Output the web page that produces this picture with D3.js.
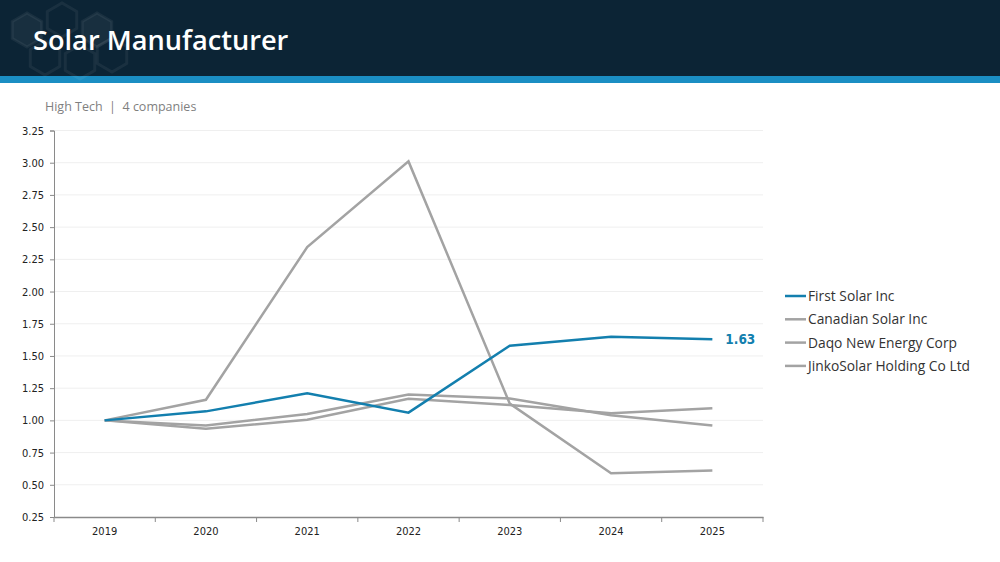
<!DOCTYPE html>
<html><head><meta charset="utf-8">
<script src="https://cdn.jsdelivr.net/npm/d3@7"></script>
<style>body{margin:0;background:#fff;}svg{display:block;}</style>
</head><body>
<svg id="c" width="1000" height="562"></svg>
<script>
const years = ["2019","2020","2021","2022","2023","2024","2025"];
const yTicks = [0.25,0.5,0.75,1.0,1.25,1.5,1.75,2.0,2.25,2.5,2.75,3.0,3.25];
const seriesNames = ["First Solar Inc","Canadian Solar Inc","Daqo New Energy Corp","JinkoSolar Holding Co Ltd"];
const firstSolar = [1.00,1.07,1.21,1.06,1.58,1.65,1.63];
const canadianSolar = [1.00,0.96,1.05,1.20,1.17,1.04,0.96];
const daqo = [1.00,1.16,2.345,3.01,1.13,0.59,0.61];
const jinko = [1.00,0.935,1.005,1.167,1.12,1.055,1.095];
const title = "Solar Manufacturer";
const subtitle = "High Tech  |  4 companies";

(function(){
const svg = d3.select("#c");
const blue = "#137fae", grey = "#a3a3a3";
const tickFont = "DejaVu Sans Condensed, DejaVu Sans, sans-serif";

// header
svg.append("rect").attr("x",0).attr("y",0).attr("width",1000).attr("height",77).attr("fill","#0c2435");
svg.append("rect").attr("x",0).attr("y",76).attr("width",1000).attr("height",7).attr("fill","#1b8ec3");
// faint hexagon decoration
const hex = (cx,cy,r)=>d3.range(6).map(i=>[cx+r*Math.cos(Math.PI/3*i+Math.PI/6), cy+r*Math.sin(Math.PI/3*i+Math.PI/6)]);
const hexes = [[27,30,17,true],[62,20,17,false],[97,30,17,true],[45,58,17,false],[80,62,17,false],[112,55,17,false]];
hexes.forEach(h=>{
  svg.append("polygon").attr("points",hex(h[0],h[1],h[2]).join(" "))
    .attr("fill",h[3]?"#ffffff":"none").attr("fill-opacity",0.05)
    .attr("stroke","#ffffff").attr("stroke-opacity",0.06).attr("stroke-width",3);
});
svg.append("text").attr("x",33).attr("y",50).attr("fill","#fff")
  .attr("font-family","Open Sans, Noto Sans, sans-serif").attr("font-size",27.2).attr("font-weight",600)
  .text(title);
svg.append("text").attr("x",45).attr("y",111).attr("fill","#7f7f7f")
  .attr("font-family","Open Sans, Noto Sans, sans-serif").attr("font-size",12.5).attr("font-weight",400)
  .style("white-space","pre").text(subtitle);

const mLeft = 54, mRight = 763, mTop = 130.5, mBottom = 517;
const x = d3.scaleBand().domain(years).range([mLeft,mRight]);
const y = d3.scaleLinear().domain([0.25,3.25]).range([mBottom,mTop]);

// gridlines
svg.append("g").selectAll("line").data(yTicks.slice(1)).join("line")
  .attr("x1",mLeft).attr("x2",mRight).attr("y1",d=>y(d)).attr("y2",d=>y(d))
  .attr("stroke","#efefef").attr("stroke-width",1);

// y axis
const ya = svg.append("g").attr("transform",`translate(${mLeft},0)`)
  .call(d3.axisLeft(y).tickValues(yTicks).tickFormat(d3.format(".2f")).tickSize(4).tickPadding(6));
ya.select(".domain").attr("stroke","#8a8a8a");
ya.selectAll(".tick line").attr("stroke","#8a8a8a");
ya.selectAll("text").attr("font-family",tickFont).attr("font-size",11).attr("fill","#222");

// x axis
const xa = svg.append("g").attr("transform",`translate(0,${mBottom})`)
  .call(d3.axisBottom(x).tickSize(0).tickPadding(10));
xa.select(".domain").attr("stroke","#8a8a8a").attr("stroke-width",1.5);
xa.selectAll("text").attr("font-family",tickFont).attr("font-size",11).attr("fill","#222");
xa.selectAll("line.bt").data(d3.range(years.length+1)).join("line").attr("class","bt")
  .attr("x1",i=>mLeft+i*x.step()).attr("x2",i=>mLeft+i*x.step()).attr("y1",0).attr("y2",5)
  .attr("stroke","#8a8a8a");

const line = d3.line().x((d,i)=>x(years[i])+x.bandwidth()/2).y(d=>y(d));
const data = [
  {name:seriesNames[0], vals:firstSolar, color:blue},
  {name:seriesNames[1], vals:canadianSolar, color:grey},
  {name:seriesNames[2], vals:daqo, color:grey},
  {name:seriesNames[3], vals:jinko, color:grey}
];
[1,2,3,0].forEach(k=>{
  svg.append("path").attr("d",line(data[k].vals)).attr("fill","none")
    .attr("stroke",data[k].color).attr("stroke-width",2.5).attr("stroke-linejoin","miter");
});
const last = firstSolar[firstSolar.length-1];
svg.append("text").attr("x",x(years[6])+x.bandwidth()/2+13).attr("y",y(last)+5)
  .attr("fill",blue).attr("font-family",tickFont).attr("font-weight","bold").attr("font-size",13.5)
  .text(d3.format(".2f")(last));

const lg = svg.append("g");
data.forEach((d,i)=>{
  const yy = 296 + i*23.3;
  lg.append("line").attr("x1",785).attr("x2",806).attr("y1",yy).attr("y2",yy).attr("stroke",d.color).attr("stroke-width",2.5);
  lg.append("text").attr("x",808).attr("y",yy+5).attr("fill","#333")
    .attr("font-family","Open Sans, Noto Sans, sans-serif").attr("font-size",13.8).text(d.name);
});
})();
</script>
</body></html>
